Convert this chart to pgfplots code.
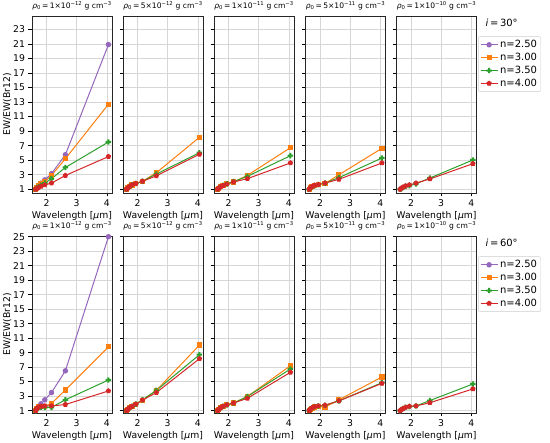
\documentclass[border=0pt]{standalone}
\usepackage{pgfplots}
\usepackage{pgfplotstable}
\pgfplotsset{compat=1.18}
\usepackage{fontspec}
\setmainfont{DejaVu Sans}
\definecolor{cP}{HTML}{9467BD}
\definecolor{cO}{HTML}{FF7F0E}
\definecolor{cG}{HTML}{2CA02C}
\definecolor{cR}{HTML}{D62728}
\pgfdeclareplotmark{Pfill}{%
  \pgfpathmoveto{\pgfqpoint{-0.38\pgfplotmarksize}{\pgfplotmarksize}}%
  \pgfpathlineto{\pgfqpoint{0.38\pgfplotmarksize}{\pgfplotmarksize}}%
  \pgfpathlineto{\pgfqpoint{0.38\pgfplotmarksize}{0.38\pgfplotmarksize}}%
  \pgfpathlineto{\pgfqpoint{\pgfplotmarksize}{0.38\pgfplotmarksize}}%
  \pgfpathlineto{\pgfqpoint{\pgfplotmarksize}{-0.38\pgfplotmarksize}}%
  \pgfpathlineto{\pgfqpoint{0.38\pgfplotmarksize}{-0.38\pgfplotmarksize}}%
  \pgfpathlineto{\pgfqpoint{0.38\pgfplotmarksize}{-\pgfplotmarksize}}%
  \pgfpathlineto{\pgfqpoint{-0.38\pgfplotmarksize}{-\pgfplotmarksize}}%
  \pgfpathlineto{\pgfqpoint{-0.38\pgfplotmarksize}{-0.38\pgfplotmarksize}}%
  \pgfpathlineto{\pgfqpoint{-\pgfplotmarksize}{-0.38\pgfplotmarksize}}%
  \pgfpathlineto{\pgfqpoint{-\pgfplotmarksize}{0.38\pgfplotmarksize}}%
  \pgfpathlineto{\pgfqpoint{-0.38\pgfplotmarksize}{0.38\pgfplotmarksize}}%
  \pgfpathclose\pgfusepathqfill}

% top row (i = 30 deg)
\pgfplotstableread{
x     p     o     g     r
1.641 1     1     1     1
1.681 1.25  1.3   1.2   1.1
1.737 1.5   1.5   1.35  1.25
1.818 1.85  1.75  1.55  1.4
1.945 2.3   2.1   1.85  1.6
2.166 3.15  2.9   2.45  1.85
2.626 5.75  5.2   4.0   2.9
4.052 20.9  12.7  7.5   5.5
}\tA
\pgfplotstableread{
x     o     g     r
1.641 1     1     1
1.681 1.2   1.2   1.2
1.737 1.4   1.4   1.4
1.818 1.6   1.6   1.6
1.945 1.8   1.8   1.8
2.166 2.1   2.1   2.1
2.626 3.28  3.1   2.85
4.052 8.15  6.03  5.81
}\tB
\pgfplotstableread{
x     o     g     r
1.641 1     1     1
1.681 1.15  1.15  1.15
1.737 1.35  1.35  1.35
1.818 1.55  1.55  1.5
1.945 1.75  1.75  1.7
2.166 2.0   2.05  2.0
2.626 2.92  2.78  2.46
4.052 6.72  5.62  4.62
}\tC
\pgfplotstableread{
x     o     g     r
1.641 1     1     1
1.681 1.2   1.15  1.2
1.737 1.4   1.35  1.4
1.818 1.55  1.5   1.55
1.945 1.7   1.65  1.65
2.166 1.8   1.85  1.85
2.626 3.0   2.6   2.37
4.052 6.63  5.3   4.62
}\tD
\pgfplotstableread{
x     g     r
1.641 1     1
1.681 1.1   1.15
1.737 1.25  1.3
1.818 1.4   1.45
1.945 1.5   1.6
2.166 1.75  1.85
2.626 2.55  2.42
4.052 5.03  4.52
}\tE
% bottom row (i = 60 deg)
\pgfplotstableread{
x     p     o     g     r
1.641 1     1     1     1
1.681 1.3   1.3   1.3   1.3
1.737 1.6   1.5   1.45  1.5
1.818 1.95  1.6   1.5   1.6
1.945 2.5   1.6   1.45  1.65
2.166 3.5   2.0   1.45  1.65
2.626 6.5   3.86  2.5   1.85
4.052 25.0  9.8   5.23  3.72
}\tF
\pgfplotstableread{
x     o     g     r
1.641 1     1     1
1.681 1.2   1.2   1.2
1.737 1.4   1.4   1.4
1.818 1.6   1.6   1.6
1.945 1.9   1.9   1.9
2.166 2.45  2.5   2.45
2.626 3.8   3.8   3.5
4.052 10.05 8.72  8.17
}\tG
\pgfplotstableread{
x     o     g     r
1.641 1     1     1
1.681 1.2   1.2   1.2
1.737 1.4   1.4   1.4
1.818 1.6   1.6   1.6
1.945 1.8   1.8   1.8
2.166 2.05  2.05  2.05
2.626 2.95  2.95  2.7
4.052 7.2   6.75  6.3
}\tH
\pgfplotstableread{
x     o     g     r
1.641 1     1     1
1.681 1.2   1.2   1.2
1.737 1.35  1.4   1.4
1.818 1.5   1.55  1.55
1.945 1.55  1.65  1.65
2.166 1.5   1.75  1.75
2.626 2.5   2.35  2.35
4.052 5.65  4.86  4.77
}\tI
\pgfplotstableread{
x     g     r
1.641 1     1
1.681 1.15  1.15
1.737 1.3   1.3
1.818 1.45  1.45
1.945 1.55  1.6
2.166 1.65  1.65
2.626 2.4   2.1
4.052 4.68  4.0
}\tJ

\pgfplotsset{
  sP/.style={color=cP, line width=1bp, mark=*, mark size=2.2bp, mark options={solid, fill=cP}},
  sO/.style={color=cO, line width=1bp, mark=square*, mark size=2.1bp, mark options={solid, fill=cO}},
  sG/.style={color=cG, line width=1bp, mark=Pfill, mark size=2.7bp, mark options={solid, fill=cG}},
  sR/.style={color=cR, line width=1bp, mark=pentagon*, mark size=2.2bp, mark options={solid, fill=cR}},
  panel/.style={
    scale only axis, width=80bp, height=177bp, anchor=south west, clip=false,
    xmin=1.52, xmax=4.17, xtick={2,3,4},
    grid=major, grid style={color=black!16, line width=0.6bp},
    axis line style={line width=0.8bp, black!85},
    tick style={black, line width=0.6bp},
    tick align=outside, major tick length=3.5bp,
    xtick pos=left, ytick pos=left,
    ticklabel style={font=\fontsize{9.3}{9.3}\selectfont},
    /pgf/number format/assume math mode=true,
    xlabel={Wavelength [\textit{μ}m]},
    label style={font=\fontsize{9.3}{9.5}\selectfont},
    xlabel style={yshift=2bp},
    ylabel shift=-5bp,
    title style={font=\fontsize{7.6}{8.5}\selectfont, yshift=-3.5bp},
    legend style={draw=black!20, rounded corners=2bp, font=\fontsize{10}{12.5}\selectfont,
      at={(1.02,0.885)}, anchor=north west, inner sep=1.8bp, row sep=0bp},
    legend cell align=left,
  },
  toprow/.style={panel, ymin=0.49, ymax=24.83, ytick={1,3,...,23}},
  botrow/.style={panel, ymin=0.68, ymax=25.1, ytick={1,3,...,25}},
}
\newcommand\rt[2]{\textit{ρ}\textsubscript{0}\,=\,#1×10\textsuperscript{−#2} g cm\textsuperscript{−3}}

\begin{document}
\begin{tikzpicture}
\useasboundingbox (0,0) rectangle (550bp,443bp);
% ---------- top row ----------
\begin{axis}[toprow, at={(32bp,250bp)}, ylabel={EW/EW(Br12)}, title={\rt{1}{12}}]
\addplot[sP] table[y=p]{\tA};
\addplot[sO] table[y=o]{\tA};
\addplot[sG] table[y=g]{\tA};
\addplot[sR] table[y=r]{\tA};
\end{axis}
\begin{axis}[toprow, at={(123bp,250bp)}, yticklabels={}, title={\rt{5}{12}}]
\addplot[sO] table[y=o]{\tB};
\addplot[sG] table[y=g]{\tB};
\addplot[sR] table[y=r]{\tB};
\end{axis}
\begin{axis}[toprow, at={(214bp,250bp)}, yticklabels={}, title={\rt{1}{11}}]
\addplot[sO] table[y=o]{\tC};
\addplot[sG] table[y=g]{\tC};
\addplot[sR] table[y=r]{\tC};
\end{axis}
\begin{axis}[toprow, at={(305.5bp,250bp)}, yticklabels={}, title={\rt{5}{11}}]
\addplot[sO] table[y=o]{\tD};
\addplot[sG] table[y=g]{\tD};
\addplot[sR] table[y=r]{\tD};
\end{axis}
\begin{axis}[toprow, at={(396.5bp,250bp)}, yticklabels={}, title={\rt{1}{10}}]
\addlegendimage{sP}\addlegendentry{n=2.50}
\addlegendimage{sO}\addlegendentry{n=3.00}
\addlegendimage{sG}\addlegendentry{n=3.50}
\addlegendimage{sR}\addlegendentry{n=4.00}
\addplot[sG, forget plot] table[y=g]{\tE};
\addplot[sR, forget plot] table[y=r]{\tE};
\node[anchor=west, font=\fontsize{10}{10}\selectfont] at (rel axis cs:1.07,0.96) {\textit{i}\,=\,30°};
\end{axis}
% ---------- bottom row ----------
\begin{axis}[botrow, at={(32bp,30bp)}, ylabel={EW/EW(Br12)}, title={\rt{1}{12}}]
\addplot[sP] table[y=p]{\tF};
\addplot[sO] table[y=o]{\tF};
\addplot[sG] table[y=g]{\tF};
\addplot[sR] table[y=r]{\tF};
\end{axis}
\begin{axis}[botrow, at={(123bp,30bp)}, yticklabels={}, title={\rt{5}{12}}]
\addplot[sO] table[y=o]{\tG};
\addplot[sG] table[y=g]{\tG};
\addplot[sR] table[y=r]{\tG};
\end{axis}
\begin{axis}[botrow, at={(214bp,30bp)}, yticklabels={}, title={\rt{1}{11}}]
\addplot[sO] table[y=o]{\tH};
\addplot[sG] table[y=g]{\tH};
\addplot[sR] table[y=r]{\tH};
\end{axis}
\begin{axis}[botrow, at={(305.5bp,30bp)}, yticklabels={}, title={\rt{5}{11}}]
\addplot[sO] table[y=o]{\tI};
\addplot[sG] table[y=g]{\tI};
\addplot[sR] table[y=r]{\tI};
\end{axis}
\begin{axis}[botrow, at={(396.5bp,30bp)}, yticklabels={}, title={\rt{1}{10}}]
\addlegendimage{sP}\addlegendentry{n=2.50}
\addlegendimage{sO}\addlegendentry{n=3.00}
\addlegendimage{sG}\addlegendentry{n=3.50}
\addlegendimage{sR}\addlegendentry{n=4.00}
\addplot[sG, forget plot] table[y=g]{\tJ};
\addplot[sR, forget plot] table[y=r]{\tJ};
\node[anchor=west, font=\fontsize{10}{10}\selectfont] at (rel axis cs:1.07,0.96) {\textit{i}\,=\,60°};
\end{axis}
\end{tikzpicture}
\end{document}
